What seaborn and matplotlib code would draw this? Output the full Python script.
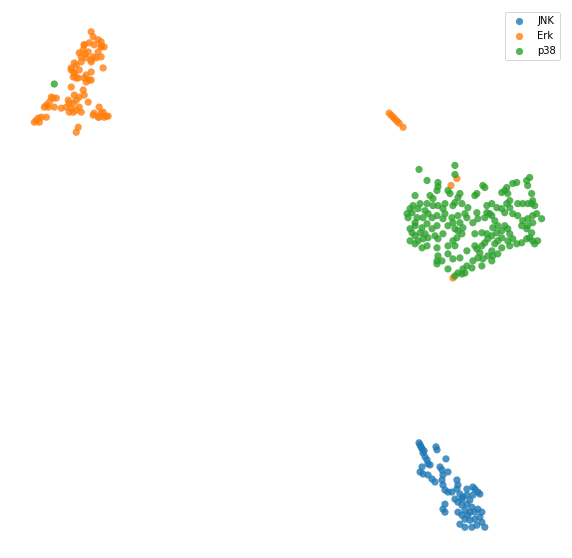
import numpy as np
import pandas as pd
import seaborn as sns
import matplotlib.pyplot as plt

# embedding coordinates (x right, y down)
jnk_x = [420, 422, 423, 425, 427, 428, 436, 437, 446, 430, 422, 420, 423, 428, 432, 435,
         440, 442, 443, 442, 443, 445, 448, 452, 448, 457, 458, 457, 460, 463, 467, 455,
         458, 462, 467, 470, 473, 475, 478, 480, 473, 472, 470, 475, 478, 482, 480, 475,
         470, 465, 462, 458, 460, 465, 472, 477, 482, 485, 445, 443, 445, 465, 468, 467,
         462, 419, 421, 424]
jnk_y = [443, 447, 451, 455, 458, 462, 445, 448, 457, 463, 465, 470, 472, 473, 477, 480,
         465, 468, 473, 478, 483, 488, 490, 490, 470, 478, 483, 487, 492, 495, 493, 497,
         500, 503, 502, 498, 493, 487, 490, 492, 485, 505, 510, 510, 507, 510, 515, 517,
         518, 517, 513, 510, 522, 525, 525, 523, 520, 525, 502, 507, 510, 508, 513, 487,
         497, 441, 445, 449]

erk_x = [90, 92, 97, 100, 103, 88, 83, 82, 87, 97, 92, 85, 80, 80, 90, 75,
         70, 78, 73, 72, 77, 85, 90, 90, 85, 102, 100, 93, 84, 95, 100, 100,
         83, 78, 90, 73, 70, 73, 75, 83, 88, 70, 82, 83, 78, 75, 72, 67,
         65, 70, 75, 80, 78, 87, 73, 60, 52, 48, 47, 53, 43, 40, 35, 33,
         37, 45, 92, 97, 102, 103, 98, 107, 77, 75, 72, 68, 50, 55, 45, 38,
         93, 98, 100, 105, 68,
         389, 391, 393, 395, 397, 399, 403,
         457, 451, 453]
erk_y = [32, 37, 40, 46, 47, 43, 45, 50, 52, 52, 57, 58, 57, 62, 62, 65,
         68, 70, 73, 77, 78, 75, 72, 80, 82, 68, 57, 45, 54, 58, 42, 47,
         45, 53, 60, 63, 70, 73, 78, 78, 80, 87, 90, 95, 97, 100, 103, 100,
         107, 108, 110, 112, 107, 102, 95, 108, 98, 102, 107, 107, 107, 117, 120, 122,
         118, 117, 115, 117, 112, 117, 107, 116, 127, 132, 112, 112, 97, 98, 105, 122,
         113, 117, 113, 116, 103,
         113, 115, 117, 119, 121, 123, 127,
         178, 185, 277]

p38_x = [53,
         455, 455, 419, 427, 438, 438, 437, 430, 448, 450, 460, 458, 455, 462, 453, 445,
         443, 445, 438, 433, 427, 420, 413, 410, 407, 412, 418, 425, 428, 432, 423, 417,
         415, 437, 443, 452, 458, 465, 467, 460, 453, 448, 455, 458, 463, 437, 432, 427,
         422, 410, 412, 415, 420, 425, 428, 423, 418, 410, 415, 422, 427, 435, 438, 443,
         437, 448, 455, 453, 467, 475, 477, 480, 482, 485, 488, 492, 487, 482, 475, 473,
         478, 485, 487, 492, 495, 498, 493, 497, 502, 505, 508, 510, 502, 498, 495, 492,
         488, 493, 498, 483, 478, 492, 502, 508, 513, 510, 517, 522, 527, 530, 533, 535,
         538, 532, 527, 522, 528, 533, 528, 523, 518, 513, 510, 505, 502, 497, 492, 487,
         490, 507, 510, 508, 505, 502, 507, 513, 517, 527, 530, 528, 532, 533, 535, 532,
         528, 537, 533, 542, 523, 518, 477, 475, 483, 485, 468, 477, 462, 457, 448, 453,
         460, 467, 472, 463, 458, 455, 462, 465, 448, 437, 438, 437, 442, 473, 482, 415,
         408, 415, 433]
p38_y = [84,
         165, 174, 169, 180, 182, 186, 190, 195, 190, 193, 193, 197, 202, 203, 205, 203,
         208, 213, 205, 205, 203, 203, 205, 208, 213, 212, 208, 210, 213, 217, 217, 217,
         222, 215, 218, 217, 215, 213, 217, 222, 222, 225, 228, 230, 227, 225, 228, 223,
         227, 228, 232, 235, 232, 233, 237, 238, 240, 240, 243, 247, 245, 235, 238, 233,
         247, 245, 245, 240, 250, 245, 248, 252, 245, 242, 238, 235, 233, 232, 233, 222,
         218, 217, 212, 215, 220, 225, 227, 232, 230, 225, 228, 233, 237, 240, 243, 250,
         255, 255, 253, 258, 257, 260, 247, 240, 238, 245, 243, 242, 238, 237, 240, 243,
         240, 232, 228, 225, 225, 222, 218, 220, 215, 213, 207, 212, 208, 207, 203, 205,
         213, 203, 200, 193, 190, 192, 187, 183, 182, 180, 177, 185, 193, 200, 205, 203,
         203, 213, 215, 218, 203, 203, 193, 195, 185, 187, 207, 212, 233, 237, 253, 258,
         257, 265, 267, 268, 272, 275, 273, 272, 268, 260, 255, 263, 260, 260, 265, 225,
         217, 195, 198]

df = pd.DataFrame({
    'x': jnk_x + erk_x + p38_x,
    'y': jnk_y + erk_y + p38_y,
    'kinase': ['JNK'] * len(jnk_x) + ['Erk'] * len(erk_x) + ['p38'] * len(p38_x),
})

fig = plt.figure(figsize=(572 / 72, 558 / 72), dpi=72)
ax = fig.add_axes([9 / 572, 6 / 558, 558 / 572, 545 / 558])
sns.scatterplot(data=df, x='x', y='y', hue='kinase', hue_order=['JNK', 'Erk', 'p38'],
                palette='tab10', alpha=0.8, s=52, linewidth=0, ax=ax)
ax.invert_yaxis()
ax.axis('off')
ax.legend(loc='upper right', fontsize=10, bbox_to_anchor=(1.0 - 2 / 558, 1.0))
fig.savefig('out.png', dpi=72)
